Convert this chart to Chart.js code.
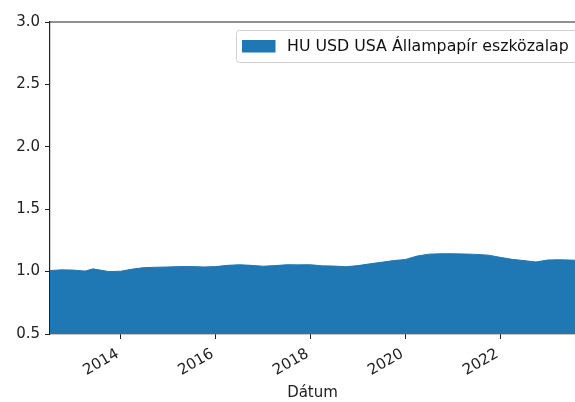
<!DOCTYPE html>
<html>
<head>
<meta charset="utf-8">
<script src="https://cdn.jsdelivr.net/npm/chart.js@4"></script>
<style>
  html, body { margin: 0; padding: 0; background: #fff; }
  #wrap { width: 575px; height: 402px; position: relative; }
</style>
</head>
<body>
<div id="wrap"><canvas id="chart"></canvas></div>
<script>
const seriesLabel = "HU USD USA Állampapír eszközalap";
const dates = [
  "2012-07", "2012-10", "2013-01", "2013-04", "2013-06", "2013-10",
  "2014-01", "2014-04", "2014-07", "2014-10", "2015-01", "2015-04",
  "2015-07", "2015-10", "2016-01", "2016-04", "2016-07", "2016-10",
  "2017-01", "2017-04", "2017-07", "2017-10", "2018-01", "2018-04",
  "2018-07", "2018-10", "2019-01", "2019-04", "2019-07", "2019-10",
  "2020-01", "2020-04", "2020-07", "2020-10", "2021-01", "2021-04",
  "2021-07", "2021-10", "2022-01", "2022-04", "2022-07", "2022-10",
  "2023-01", "2023-04", "2023-07", "2023-10"
];
const values = [
  1.008, 1.014, 1.012, 1.004, 1.022, 1.000,
  1.003, 1.020, 1.032, 1.035, 1.037, 1.040,
  1.040, 1.037, 1.040, 1.050, 1.055, 1.050,
  1.043, 1.048, 1.055, 1.054, 1.055, 1.046,
  1.044, 1.039, 1.048, 1.062, 1.075, 1.088,
  1.097, 1.125, 1.140, 1.143, 1.143, 1.141,
  1.138, 1.132, 1.114, 1.098, 1.088, 1.077,
  1.093, 1.095, 1.092, 1.090
];
const xTicks = [2014, 2016, 2018, 2020, 2022];
const yTicks = [0.5, 1.0, 1.5, 2.0, 2.5, 3.0];

function toYear(s) {
  const [y, m] = s.split("-").map(Number);
  return y + (m - 1) / 12;
}

const points = dates.map((d, i) => ({ x: toYear(d), y: values[i] }));
const font = { family: "DejaVu Sans", size: 15 };

// spine on top + matplotlib style legend
const extras = {
  id: "extras",
  afterDraw(chart) {
    const c = chart.ctx;
    const a = chart.chartArea;
    c.save();
    c.strokeStyle = "#222";
    c.lineWidth = 1.2;
    c.beginPath();
    c.moveTo(a.left, a.top);
    c.lineTo(a.right, a.top);
    c.stroke();

    const bx = 236.5, by = 30.5, bw = 360, bh = 32;
    c.fillStyle = "rgba(255,255,255,0.85)";
    c.strokeStyle = "#d0d0d0";
    c.lineWidth = 1;
    c.beginPath();
    c.roundRect(bx, by, bw, bh, 3);
    c.fill();
    c.stroke();
    c.fillStyle = chart.data.datasets[0].backgroundColor;
    c.fillRect(242, 40, 33.5, 12.5);
    c.fillStyle = "#111";
    c.font = "15.8px 'DejaVu Sans'";
    c.textBaseline = "middle";
    c.textAlign = "left";
    c.fillText(chart.data.datasets[0].label, 287, 46.5);
    c.restore();
  }
};

new Chart(document.getElementById("chart"), {
  type: "line",
  data: {
    datasets: [{
      label: seriesLabel,
      data: points,
      borderColor: "#1f77b4",
      backgroundColor: "#1f77b4",
      borderWidth: 1,
      pointRadius: 0,
      tension: 0,
      fill: "start"
    }]
  },
  options: {
    responsive: true,
    maintainAspectRatio: false,
    animation: false,
    layout: { padding: { top: 22, right: 0, left: 0, bottom: 0 } },
    plugins: { legend: { display: false }, tooltip: { enabled: false } },
    scales: {
      x: {
        type: "linear",
        min: 2012.51,
        max: 2023.575,
        afterFit: (s) => { s.height = 68; },
        afterBuildTicks: (s) => { s.ticks = xTicks.map(v => ({ value: v })); },
        grid: { drawOnChartArea: false, drawTicks: true, tickLength: 5, color: "#222", tickWidth: 1 },
        border: { display: true, color: "#222", width: 1.2 },
        ticks: {
          font: font,
          color: "#222",
          minRotation: 30,
          maxRotation: 30,
          padding: 6,
          labelOffset: -3,
          autoSkip: false,
          callback: (v) => String(v)
        },
        title: { display: true, text: "Dátum", font: font, color: "#222", padding: { top: 0, bottom: 0 } }
      },
      y: {
        min: 0.5,
        max: 3.0,
        afterFit: (s) => { s.width = 50; },
        afterBuildTicks: (s) => { s.ticks = yTicks.map(v => ({ value: v })); },
        grid: { drawOnChartArea: false, drawTicks: true, tickLength: 5, color: "#222", tickWidth: 1 },
        border: { display: true, color: "#222", width: 1.2 },
        ticks: { font: font, color: "#222", padding: 5, callback: (v) => Number(v).toFixed(1) }
      }
    }
  },
  plugins: [extras]
});
</script>
</body>
</html>
